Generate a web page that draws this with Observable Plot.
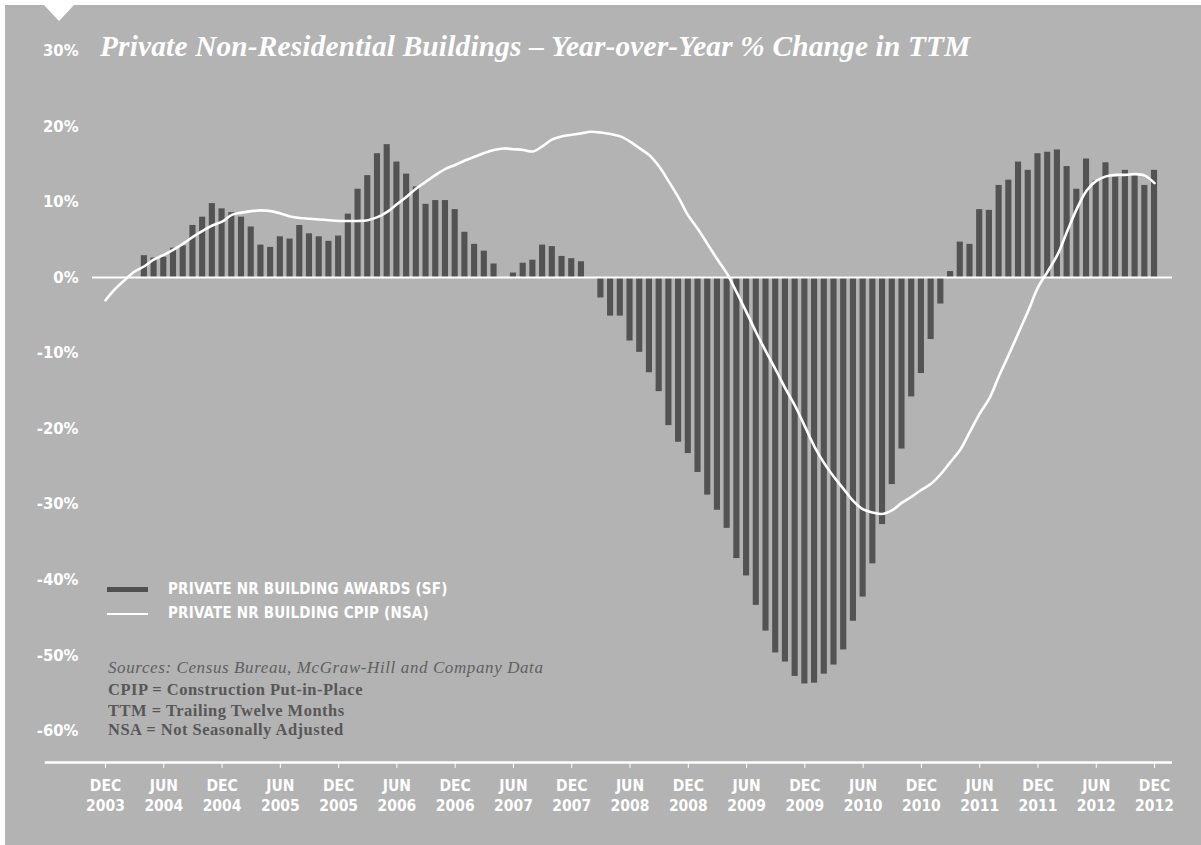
<!DOCTYPE html>
<html>
<head>
<meta charset="utf-8">
<script src="https://cdn.jsdelivr.net/npm/d3@7"></script>
<script src="https://cdn.jsdelivr.net/npm/@observablehq/plot@0.6"></script>
<style>
  html, body { margin: 0; padding: 0; background: #ffffff; width: 1201px; height: 845px; overflow: hidden; }
  #panel { position: absolute; left: 5px; top: 5px; width: 1196px; height: 840px; background: #b3b3b3; }
  #notch { position: absolute; left: 44px; top: 5px; width: 0; height: 0;
           border-left: 15px solid transparent; border-right: 15px solid transparent; border-top: 16px solid #ffffff; }
  #chart { position: absolute; left: 0; top: 0; }
  .title { position: absolute; left: 100px; top: 29px; font-family: "Liberation Serif", serif; font-style: italic; font-weight: bold;
           font-size: 29.3px; line-height: 34px; color: #ffffff; white-space: nowrap; letter-spacing: 0.2px; }
  .legend { position: absolute; left: 107px; height: 20px; line-height: 20px; font-family: "DejaVu Sans", sans-serif; font-stretch: condensed; font-weight: bold;
            font-size: 15px; color: #ffffff; white-space: nowrap; letter-spacing: 0.2px; }
  .legend .sw { display: inline-block; width: 41px; vertical-align: middle; margin-right: 20px; }
  .note { position: absolute; left: 108px; height: 22px; line-height: 22px; font-family: "Liberation Serif", serif; white-space: nowrap; }
  .src { font-style: italic; font-size: 17px; letter-spacing: 0.6px; color: #606060; }
  .def { font-weight: bold; font-size: 16.5px; letter-spacing: 0.5px; color: #575757; }
</style>
</head>
<body>
<div id="panel"></div>
<div id="notch"></div>
<div id="chart"></div>
<div class="title" id="title"></div>
<div class="legend" style="top:579px"><span class="sw" style="height:5px;background:#505050"></span><span id="lg1"></span></div>
<div class="legend" style="top:603px"><span class="sw" style="height:2px;background:#ffffff"></span><span id="lg2"></span></div>
<div class="note src" style="top:657px" id="n0"></div>
<div class="note def" style="top:679px" id="n1"></div>
<div class="note def" style="top:700px" id="n2"></div>
<div class="note def" style="top:719px" id="n3"></div>
<script>
// ---- Data (monthly, Dec 2003 .. Dec 2012; index 0 = Dec 2003) ----
const awards = [
  null, null, null, null,
  2.9, 2.6, 2.7, 3.9, 4.2, 6.9, 8.0, 9.8, 9.1, 8.6, 8.0, 6.7, 4.3, 4.0, 5.4, 5.1, 6.9, 5.8, 5.4, 4.8,
  5.5, 8.4, 11.7, 13.5, 16.4, 17.6, 15.3, 13.7, 12.0, 9.7, 10.2, 10.2, 9.0, 6.0, 4.4, 3.5, 1.8, 0,
  0.6, 1.9, 2.3, 4.3, 4.1, 2.8, 2.5, 2.1, 0,
  -2.7, -5.1, -5.1, -8.4, -9.9, -12.6, -15.1, -19.6, -21.8, -23.3, -25.8, -28.8, -30.8, -33.2, -37.2,
  -39.5, -43.4, -46.8, -49.7, -50.9, -52.8, -53.8, -53.7, -52.5, -51.3, -49.3, -45.5, -42.3, -37.9,
  -32.7, -27.4, -22.7, -15.8, -12.7, -8.2, -3.5,
  0.8, 4.7, 4.4, 9.0, 8.9, 12.2, 12.9, 15.3, 14.2, 16.4, 16.6, 16.9, 14.7, 11.7, 15.7, 12.8, 15.2,
  13.3, 14.2, 13.5, 12.2, 14.2
];
const cpip = [
  -3.0, -1.5, -0.3, 0.8, 1.5, 2.4, 3.0, 3.7, 4.5, 5.4, 6.2, 6.9, 7.4, 8.3, 8.6, 8.8, 8.9, 8.8, 8.5, 8.1,
  7.9, 7.8, 7.7, 7.6, 7.5, 7.5, 7.5, 7.6, 8.0, 8.7, 9.7, 10.7, 11.8, 12.7, 13.6, 14.4, 14.9, 15.5, 16.0,
  16.5, 16.9, 17.1, 17.0, 16.9, 16.7, 17.4, 18.3, 18.7, 18.9, 19.1, 19.3, 19.2, 19.0, 18.7, 18.0, 17.1,
  16.2, 14.7, 12.7, 10.6, 8.2, 6.4, 4.4, 2.4, 0.5, -2.0, -4.6, -7.3, -9.8, -12.2, -14.7, -17.0, -19.7,
  -22.4, -24.6, -26.4, -28.0, -29.6, -30.7, -31.1, -31.3, -30.8, -29.8, -29.0, -28.1, -27.3, -26.0,
  -24.4, -22.8, -20.4, -18.0, -16.0, -13.0, -10.2, -7.3, -4.4, -1.3, 0.8, 3.0, 6.1, 9.1, 11.5, 12.8,
  13.4, 13.6, 13.6, 13.7, 13.5, 12.5
];
const tickLabels = [
  "DEC\n2003", "JUN\n2004", "DEC\n2004", "JUN\n2005", "DEC\n2005", "JUN\n2006", "DEC\n2006",
  "JUN\n2007", "DEC\n2007", "JUN\n2008", "DEC\n2008", "JUN\n2009", "DEC\n2009", "JUN\n2010",
  "DEC\n2010", "JUN\n2011", "DEC\n2011", "JUN\n2012", "DEC\n2012"
];
const yTicks = [30, 20, 10, 0, -10, -20, -30, -40, -50, -60];
const titleText = "Private Non-Residential Buildings \u2013 Year-over-Year % Change in TTM";
const legendLabels = ["PRIVATE NR BUILDING AWARDS (SF)", "PRIVATE NR BUILDING CPIP (NSA)"];
const notes = [
  "Sources: Census Bureau, McGraw-Hill and Company Data",
  "CPIP = Construction Put-in-Place",
  "TTM = Trailing Twelve Months",
  "NSA = Not Seasonally Adjusted"
];

// ---- build tables ----
const barData = awards.map((v, i) => ({i, v})).filter(d => d.v !== null);
const lineData = cpip.map((v, i) => ({i, v}));
const tickIdx = tickLabels.map((_, k) => k * 6);

const xDomain = [-1.34, 109.85];
const yDomain = [-64.2, 30];
const axisLeftExt = -6.2;

const condensed = "'DejaVu Sans', sans-serif";

const chart = Plot.plot({
  width: 1201,
  height: 845,
  marginLeft: 92,
  marginRight: 29,
  marginTop: 50.5,
  marginBottom: 83,
  style: {background: "transparent", overflow: "visible", fontStretch: "condensed"},
  x: {type: "linear", domain: xDomain},
  y: {domain: yDomain},
  marks: [
    Plot.rectY(barData, {
      x1: d => d.i - 0.5, x2: d => d.i + 0.5, y1: 0, y2: "v",
      insetLeft: 1.8, insetRight: 1.8, fill: "#535353"
    }),
    Plot.ruleY([0], {stroke: "#ffffff", strokeWidth: 2}),
    Plot.ruleY([yDomain[0]], {x1: axisLeftExt, x2: xDomain[1], stroke: "#ffffff", strokeWidth: 2.5}),
    Plot.line(lineData, {x: "i", y: "v", stroke: "#ffffff", strokeWidth: 2.6, curve: "catmull-rom"}),
    Plot.axisY({
      ticks: yTicks, tickSize: 0, tickPadding: 14, tickFormat: d => `${d}%`,
      fontSize: 16.5, fontWeight: "bold", fontFamily: condensed, fill: "#ffffff", label: null
    }),
    Plot.axisX({
      ticks: tickIdx, tickSize: 6, tickPadding: 8, stroke: "#ffffff", strokeWidth: 1,
      tickFormat: d => tickLabels[d / 6], lineHeight: 1.3,
      fontSize: 15.5, fontWeight: "bold", fontFamily: condensed, fill: "#ffffff", label: null
    })
  ]
});
document.getElementById("chart").appendChild(chart);
document.getElementById("title").textContent = titleText;
document.getElementById("lg1").textContent = legendLabels[0];
document.getElementById("lg2").textContent = legendLabels[1];
notes.forEach((t, k) => document.getElementById("n" + k).textContent = t);
</script>
</body>
</html>
